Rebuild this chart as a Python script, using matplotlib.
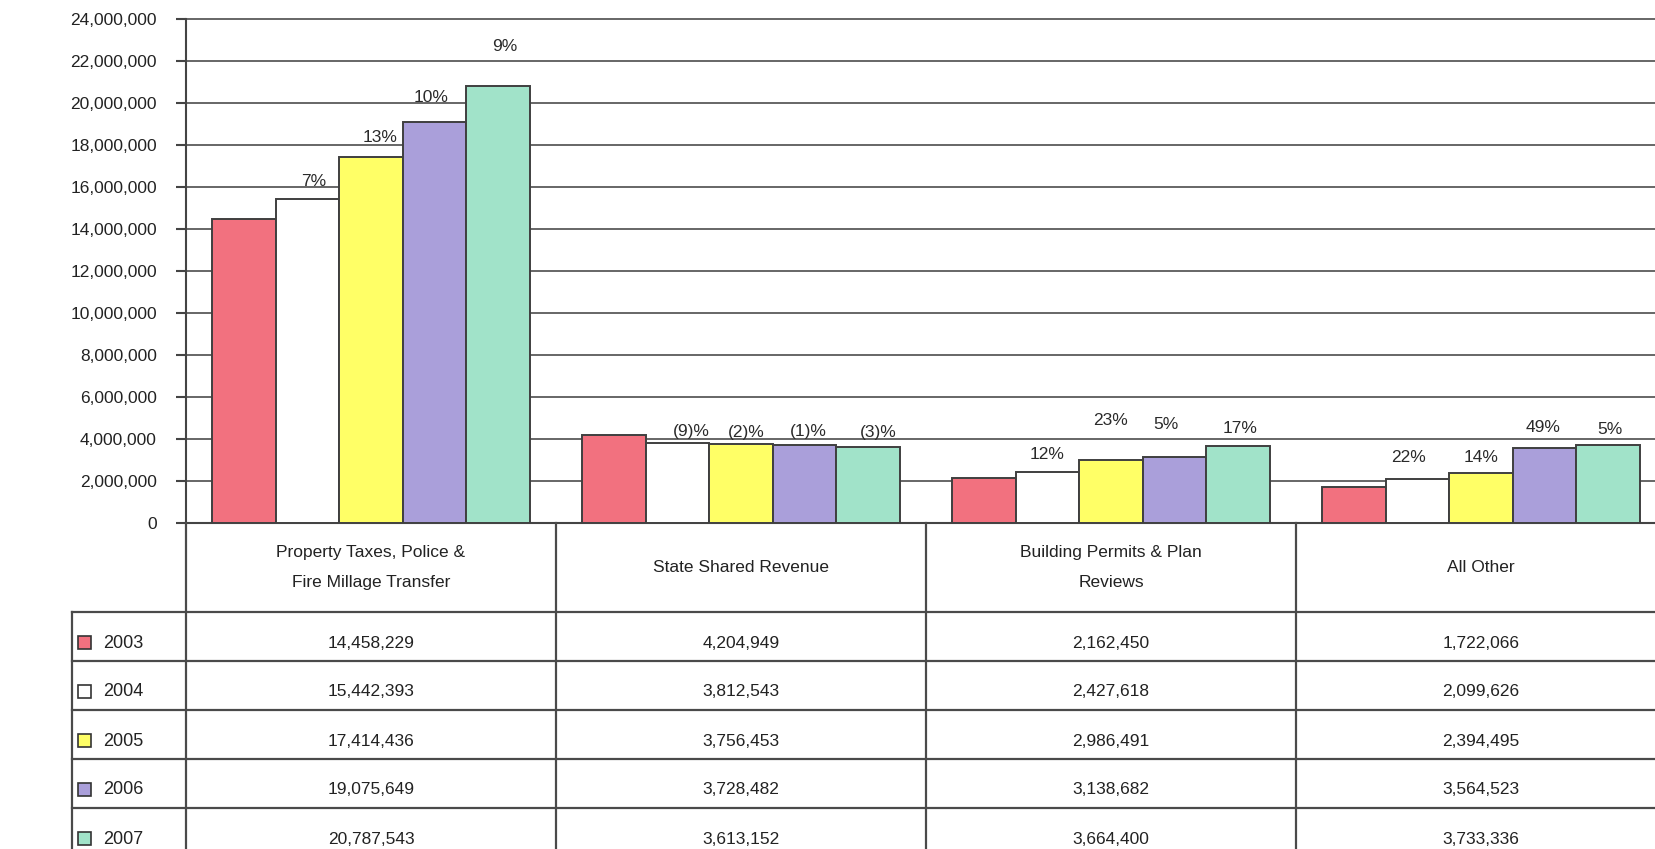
import matplotlib
matplotlib.use('Agg')
import matplotlib.pyplot as plt
import numpy as np
from matplotlib.patches import Rectangle

# values
categories = ['Property Taxes, Police &\nFire Millage Transfer', 'State Shared Revenue',
              'Building Permits & Plan\nReviews', 'All Other']
years = ['2003', '2004', '2005', '2006', '2007']
rev_2003 = [14458229, 4204949, 2162450, 1722066]
rev_2004 = [15442393, 3812543, 2427618, 2099626]
rev_2005 = [17414436, 3756453, 2986491, 2394495]
rev_2006 = [19075649, 3728482, 3138682, 3564523]
rev_2007 = [20787543, 3613152, 3664400, 3733336]
# growth labels printed above the 2004-2007 bars
growth_2004 = ['7%', '(9)%', '12%', '22%']
growth_2005 = ['13%', '(2)%', '23%', '14%']
growth_2006 = ['10%', '(1)%', '5%', '49%']
growth_2007 = ['9%', '(3)%', '17%', '5%']
y_ticks = list(range(0, 24000001, 2000000))

series = [rev_2003, rev_2004, rev_2005, rev_2006, rev_2007]
growth = [None, growth_2004, growth_2005, growth_2006, growth_2007]
colors = ['#f2717f', '#ffffff', '#ffff66', '#aa9fda', '#a1e3c9']
edge = '#3f3f3f'
# label nudges in pixels (dx, dy above bar top), the scan is not regular
nudge = [None,
         [(6, 17), (14, 11), (0, 18), (-9, 21)],
         [(9, 20), (5, 12), (0, 40), (0, 15)],
         [(-4, 25), (4, 13), (-9, 33), (-2, 21)],
         [(6, 40), (10, 15), (2, 18), (2, 15)]]

plt.rcParams['font.family'] = ['Liberation Sans', 'DejaVu Sans']
W, H = 1655, 849
fig = plt.figure(figsize=(W / 100, H / 100), dpi=100)
fig.patch.set_facecolor('white')

# plot area runs a little past the right edge, like the cropped scan
ax = fig.add_axes([186 / W, (H - 523) / H, 1480 / W, 504 / H])
ax.set_xlim(-0.5, 3.5)
ax.set_ylim(0, 24000000)
bw = 0.172
x = np.arange(len(categories))
for k, vals in enumerate(series):
    xs = x + (k - 2) * bw
    ax.bar(xs, vals, bw, color=colors[k], edgecolor=edge, linewidth=1.4, zorder=3)
    if growth[k] is None:
        continue
    for i, lab in enumerate(growth[k]):
        dx, dy = nudge[k][i]
        ax.annotate(lab, (xs[i], vals[i]), xytext=(dx, dy), textcoords='offset pixels',
                    ha='center', va='center', fontsize=12.5, color='#2a2a2a', zorder=4)

ax.set_yticks(y_ticks)
ax.set_yticklabels(['{:,}'.format(v) for v in y_ticks])
ax.set_xticks([])
ax.yaxis.grid(True, color='#5a5a5a', linewidth=1.3)
for gl in ax.get_ygridlines():
    gl.set_clip_on(False)
ax.set_axisbelow(True)
for s in ['top', 'right']:
    ax.spines[s].set_visible(False)
ax.spines['left'].set_color('#444444')
ax.spines['left'].set_linewidth(1.5)
ax.spines['bottom'].set_color('#444444')
ax.spines['bottom'].set_linewidth(1.5)
ax.tick_params(axis='y', direction='out', length=7, width=1.5, color='#444444',
               labelsize=12.5, labelcolor='#222222', pad=14)

# data table under the chart, y in pixels from the baseline down
tab = fig.add_axes([186 / W, (H - 857) / H, 1480 / W, 334 / H])
tab.set_xlim(-0.5, 3.5)
tab.set_ylim(334, 0)
tab.axis('off')
lc = '#4a4a4a'
head_h, row_h = 89, 49
left = -0.5 - 114 / 370
for xv in [-0.5, 0.5, 1.5, 2.5]:
    tab.plot([xv, xv], [0, 334], color=lc, lw=1.6, clip_on=False)
tab.plot([left, left], [head_h, 334], color=lc, lw=1.6, clip_on=False)
for r in range(len(years)):
    yy = head_h + r * row_h
    tab.plot([left, 3.5], [yy, yy], color=lc, lw=1.6, clip_on=False)

for i, cat in enumerate(categories):
    tab.text(i, head_h / 2, cat, ha='center', va='center', fontsize=12.5,
             color='#222222', linespacing=2.3)

for r, vals in enumerate(series):
    yc = head_h + r * row_h + 31
    tab.add_patch(Rectangle((-0.5 - 108 / 370, yc - 7), 13 / 370, 13,
                            facecolor=colors[r], edgecolor='#333333', lw=1.2, clip_on=False))
    tab.text(-0.5 - 83 / 370, yc, years[r], ha='left', va='center', fontsize=13,
             color='#222222', clip_on=False)
    for i, v in enumerate(vals):
        tab.text(i, yc, '{:,}'.format(v), ha='center', va='center', fontsize=12.5,
                 color='#222222')

fig.savefig('out.png', dpi=100, facecolor='white')
